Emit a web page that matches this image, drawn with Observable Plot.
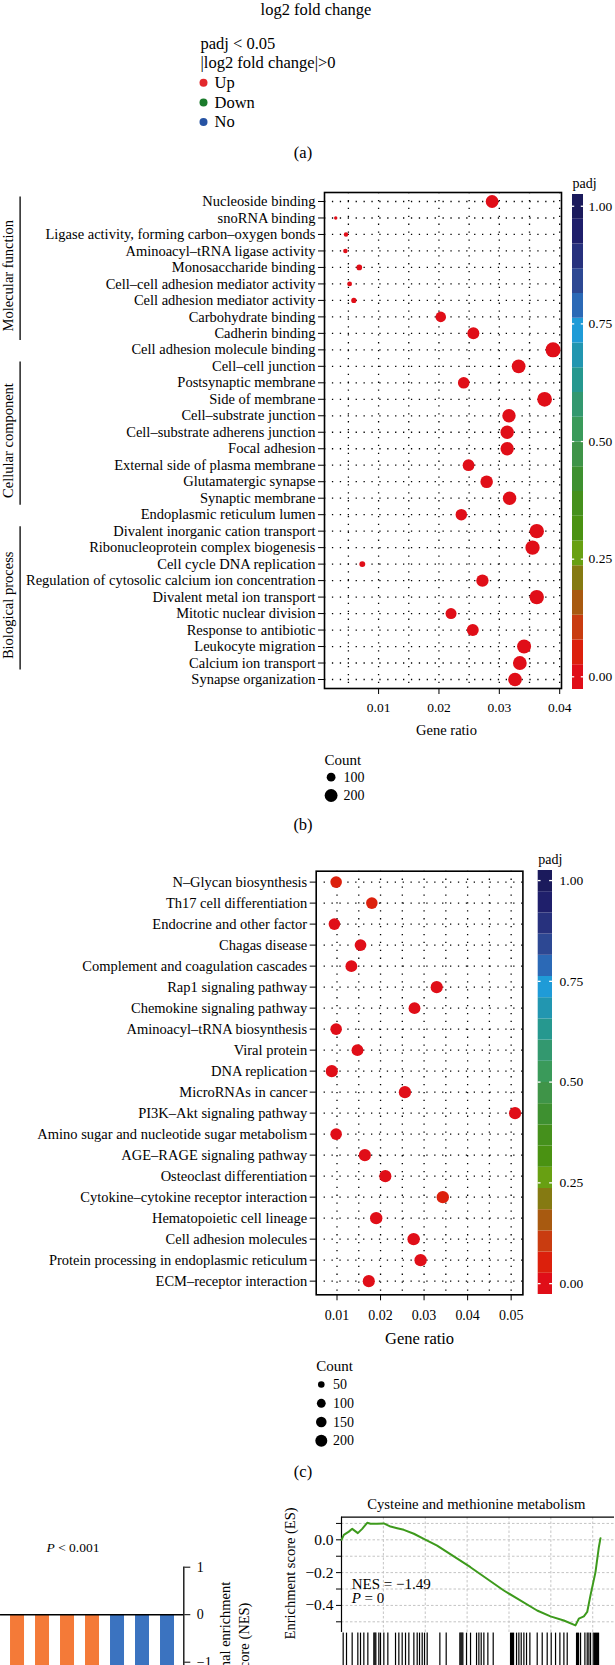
<!DOCTYPE html>
<html><head><meta charset="utf-8">
<script src="https://cdn.jsdelivr.net/npm/d3@7"></script>
<script src="https://cdn.jsdelivr.net/npm/@observablehq/plot@0.6"></script>
<style>
html,body{margin:0;padding:0;background:#fff;}
#page{position:relative;width:615px;height:1665px;overflow:hidden;background:#fff;font-family:"Liberation Serif","Times New Roman",serif;color:#000;}
.lbl{position:absolute;white-space:nowrap;line-height:1;font-family:"Liberation Serif","Times New Roman",serif;}
</style></head>
<body><div id="page"></div>
<script>
// ---------------- DATA ----------------
// (a) volcano legend
const volcanoHeader = ["padj < 0.05", "|log2 fold change|>0"];
const volcanoClasses = ["Up", "Down", "No"];
const volcanoColors = ["#e2282c", "#1b7b2c", "#2653a3"];

// (b) GO enrichment
const goTerms = [
  "Nucleoside binding","snoRNA binding","Ligase activity, forming carbon–oxygen bonds","Aminoacyl–tRNA ligase activity","Monosaccharide binding",
  "Cell–cell adhesion mediator activity","Cell adhesion mediator activity","Carbohydrate binding","Cadherin binding","Cell adhesion molecule binding",
  "Cell–cell junction","Postsynaptic membrane","Side of membrane","Cell–substrate junction","Cell–substrate adherens junction",
  "Focal adhesion","External side of plasma membrane","Glutamatergic synapse","Synaptic membrane","Endoplasmic reticulum lumen",
  "Divalent inorganic cation transport","Ribonucleoprotein complex biogenesis","Cell cycle DNA replication","Regulation of cytosolic calcium ion concentration","Divalent metal ion transport",
  "Mitotic nuclear division","Response to antibiotic","Leukocyte migration","Calcium ion transport","Synapse organization"];
const goRatio = [0.0288,0.0029,0.0046,0.0045,0.0068,0.0052,0.0059,0.0203,0.0257,0.0389,
  0.0332,0.0241,0.0375,0.0316,0.0313,0.0313,0.0249,0.0279,0.0317,0.0237,
  0.0362,0.0355,0.0073,0.0272,0.0362,0.0220,0.0256,0.0341,0.0334,0.0326];
const goCount = [196,20,31,31,46,35,40,138,175,265,226,164,255,215,213,213,169,190,216,161,246,241,50,185,246,150,174,232,227,222];
const goPadj = [0.001,0.004,0.003,0.003,0.002,0.003,0.003,0.001,0.001,0.0001,0.0001,0.001,0.0001,0.0002,0.0002,0.0002,0.001,0.001,0.0002,0.001,
  0.0001,0.0001,0.002,0.001,0.0001,0.001,0.001,0.0001,0.0001,0.0001];
const goGroupNames = ["Molecular function","Cellular component","Biological process"];
const goGroupFirst = [0,10,20];
const goGroupLast = [9,19,29];
const goTicksX = [0.01,0.02,0.03,0.04];
const goGridX = [0.005,0.01,0.015,0.02,0.025,0.03,0.035,0.04];

// (c) KEGG enrichment
const keggTerms = ["N–Glycan biosynthesis","Th17 cell differentiation","Endocrine and other factor","Chagas disease","Complement and coagulation cascades",
  "Rap1 signaling pathway","Chemokine signaling pathway","Aminoacyl–tRNA biosynthesis","Viral protein","DNA replication",
  "MicroRNAs in cancer","PI3K–Akt signaling pathway","Amino sugar and nucleotide sugar metabolism","AGE–RAGE signaling pathway","Osteoclast differentiation",
  "Cytokine–cytokine receptor interaction","Hematopoietic cell lineage","Cell adhesion molecules","Protein processing in endoplasmic reticulum","ECM–receptor interaction"];
const keggRatio = [0.0098,0.0180,0.0094,0.0154,0.0133,0.0329,0.0278,0.0098,0.0147,0.0088,0.0256,0.0509,0.0098,0.0164,0.0211,0.0343,0.0190,0.0276,0.0292,0.0173];
const keggCount = [185,185,185,190,195,205,195,185,195,205,210,205,185,205,205,215,215,215,215,205];
const keggPadj = [0.03,0.03,0.01,0.01,0.01,0.002,0.002,0.01,0.01,0.005,0.002,0.001,0.01,0.005,0.005,0.03,0.005,0.002,0.002,0.005];
const keggTicksX = [0.01,0.02,0.03,0.04,0.05];
const keggGridX = [0.01,0.015,0.02,0.025,0.03,0.035,0.04,0.045,0.05];

// padj colour bar (20 bins, bottom -> top)
const padjPalette = ["#e00e18","#dc200c","#c93c10","#a85a10","#857a12","#68a012","#4a9212","#45901c","#3e9030","#3f9448",
  "#3a9a5a","#33986f","#26988f","#2296b0","#1f9bd7","#2b69b6","#2d4893","#27317d","#1f1f6b","#1b1a5c"];
const padjRange = [-0.027, 1.025];
const padjTicks = [0, 0.25, 0.5, 0.75, 1];
const countLegendB = [100, 200];
const countLegendC = [50, 100, 150, 200];

// (d) NES bars
const nesSets = ["S1","S2","S3","S4","S5","S6","S7"];
const nesValues = [-1.62,-1.58,-1.55,-1.52,-1.60,-1.56,-1.50];
const nesClass = ["A","A","A","A","B","B","B"];
const nesColors = ["#f47a38","#3b73c0"];
const nesTicks = [-1, 0, 1];

// (e) GSEA running enrichment score
const esRank = [0,140,440,640,975,1235,1535,1730,2130,2530,2925,3325,3720,4320,4915,5710,7700,9690,11680,12480,13275,13970,14170,14470,14670,14865,15165,15365,15465];
const esScore = [0,0.03,0.05,0.067,0.041,0.067,0.104,0.098,0.098,0.100,0.081,0.071,0.061,0.037,0.006,-0.035,-0.167,-0.309,-0.431,-0.467,-0.492,-0.522,-0.481,-0.467,-0.44,-0.339,-0.197,-0.045,0.010];
const esHits = [100,299,637,975,1135,1334,1573,1931,1990,2050,2229,2329,2528,2767,3225,3424,3623,3822,4021,4320,4519,4658,4818,4957,5116,5873,6251,
  7067,7127,7187,7246,7465,7704,8063,8202,8341,8500,8739,9058,10093,10153,10212,10272,10451,10590,10730,10889,11048,11247,11685,11984,12282,
  12521,12780,13039,13278,13477,14034,14094,14154,14273,14532,14671,14771,14870,15030,15109,15169,15229,15288,15348];
const esGridX = [2500,5000,7500,10000,12500,15000];
const esTicksY = [0.1,0,-0.1,-0.2,-0.3,-0.4,-0.5];
const esLabeledY = [0,-0.2,-0.4];
const esXDomain = [0, 16300];
const esYDomain = [-0.8, 0.138];

// ---------------- HELPERS ----------------
const W = 615;
const page = document.getElementById("page");
const serif = "'Liberation Serif','Times New Roman',serif";
const baseStyle = {background:"transparent", fontFamily: serif, fontSize:"14px", overflow:"visible", maxWidth:"none", color:"#000"};
function place(el, top){ el.style.position="absolute"; el.style.left="0px"; el.style.top=top+"px"; page.appendChild(el); }
function label(html, x, y, size, anchor){
  const d = document.createElement("div"); d.className="lbl"; d.innerHTML = html;
  d.style.fontSize = size+"px"; d.style.left = x+"px"; d.style.top = y+"px";
  d.style.transform = anchor==="start" ? "translate(0,-50%)" : "translate(-50%,-50%)";
  page.appendChild(d);
}
const padjColor = {type:"quantize", domain: padjRange, range: padjPalette};
const dotted = {stroke:"#000", strokeWidth:1.3, strokeDasharray:"1.3,6.6"};
const f2 = d3.format(".2f");
const intFmt = d => d < 0 ? "\u2212" + Math.abs(d) : String(d);

// ---------------- (a) ----------------
label("log2 fold change", 316, 9.5, 16.5);
const legA = Plot.plot({
  width: W, height: 110, marginTop: 13, marginBottom: 18.5, marginLeft: 203, marginRight: W-214,
  style: baseStyle,
  x: {domain:[0,1], axis:null}, y: {domain:[-2,2], reverse:true, axis:null},
  color: {domain: volcanoClasses, range: volcanoColors},
  marks: [
    Plot.text(volcanoHeader, {x: () => 0, y: (d,i) => i-2, dx: -3, text: d => d, textAnchor:"start", fontSize:16.5}),
    Plot.dot(volcanoClasses, {x: () => 0, y: (d,i) => i, r: 4, fill: d => d}),
    Plot.text(volcanoClasses, {x: () => 1, y: (d,i) => i, text: d => d, textAnchor:"start", fontSize:16.5})
  ]
});
place(legA, 30);
label("(a)", 303, 153, 16.5);

// ---------------- (b) ----------------
const goData = goTerms.map((t,i) => ({i, term:t, ratio:goRatio[i], count:goCount[i], padj:goPadj[i]}));
const goGroups = goGroupNames.map((n,k) => ({name:n, from:goGroupFirst[k]-0.3, to:goGroupLast[k]-0.6, mid:(goGroupFirst[k]+goGroupLast[k])/2}));
const bX = [0.00104, 0.0403];
const rB = {type:"sqrt", domain:[20,265], range:[1.7,7.5]};
const plotB = Plot.plot({
  width: W, height: 578, marginTop: 22, marginBottom: 60, marginLeft: 324, marginRight: 54,
  style: baseStyle,
  x: {domain: bX}, y: {domain: [-0.546, 29.546], reverse: true},
  r: rB, color: padjColor,
  marks: [
    Plot.ruleX(goGridX, dotted),
    Plot.ruleY(goData, {y:"i", ...dotted}),
    Plot.dot(goData, {x:"ratio", y:"i", r:"count", fill:"padj"}),
    Plot.frame({stroke:"#000", strokeWidth:1.6}),
    Plot.axisX({ticks: goTicksX, tickFormat: f2, tickSize:6, tickPadding:8, fontSize:13.5, label:null}),
    Plot.axisY({ticks: goData.map(d => d.i), tickFormat: i => goTerms[i], tickSize:6, tickPadding:3, fontSize:14.5, label:null}),
    Plot.link(goGroups, {x1: () => bX[0], x2: () => bX[0], y1:"from", y2:"to", dx:-304.4, stroke:"#000", strokeWidth:1.3}),
    Plot.text(goGroups, {x: () => bX[0], y:"mid", text:"name", rotate:-90, dx:-316, textAnchor:"middle", lineAnchor:"middle", fontSize:14.5}),
    Plot.text(["Gene ratio"], {frameAnchor:"bottom", dy:42, dx:3.5, textAnchor:"middle", lineAnchor:"middle", fontSize:14.5})
  ]
});
place(plotB, 170);

function colorbar(top, frameTop, frameBottom, x0, x1, pad){
  const bands = padjPalette.map((c,k) => {
    const s = (padjRange[1]-padjRange[0])/padjPalette.length;
    return {lo: padjRange[0]+k*s, hi: padjRange[0]+(k+1)*s, mid: padjRange[0]+(k+0.5)*s};
  });
  return Plot.plot({
    width: W, height: frameBottom-top+10, marginTop: frameTop-top, marginBottom: 10, marginLeft: x0, marginRight: W-x1,
    style: baseStyle,
    x: {domain:[0,1], axis:null}, y: {domain: padjRange},
    color: padjColor,
    marks: [
      Plot.rect(bands, {x1: () => 0, x2: () => 1, y1:"lo", y2:"hi", fill:"mid"}),
      Plot.ruleY(padjTicks, {x1: () => 0, x2: () => 0.2, stroke:"white", strokeWidth:1.3}),
      Plot.ruleY(padjTicks, {x1: () => 0.8, x2: () => 1, stroke:"white", strokeWidth:1.3}),
      Plot.axisY({anchor:"right", ticks: padjTicks, tickFormat: f2, tickSize:0, tickPadding: pad, fontSize:13.5, label:null}),
      Plot.text(["padj"], {frameAnchor:"top-left", dy:-11, textAnchor:"start", lineAnchor:"middle", fontSize:14})
    ]
  });
}
place(colorbar(170, 194, 689, 572, 583, 5), 170);

function countLegend(counts, rScale, y0, y1, dotX, labelX, titleDy, titleDx){
  return Plot.plot({
    width: W, height: y1 + 20, marginTop:0, marginBottom:0, marginLeft:0, marginRight:0,
    style: baseStyle,
    x: {domain:[0,1], range:[dotX, labelX], axis:null},
    y: {domain:[0, counts.length-1], range:[y0, y1], axis:null},
    r: rScale,
    marks: [
      Plot.text(["Count"], {x: () => 0, y: () => -1, dx: titleDx, dy: titleDy, textAnchor:"start", fontSize:15}),
      Plot.dot(counts, {x: () => 0, y: (d,i) => i, r: d => d, fill:"#000"}),
      Plot.text(counts, {x: () => 1, y: (d,i) => i, text: d => String(d), textAnchor:"start", fontSize:14})
    ]
  });
}
place(countLegend(countLegendB, rB, 36.7, 55, 330.6, 343, 1.7, -6.6), 740);
label("(b)", 303, 825, 16.5);

// ---------------- (c) ----------------
const keggData = keggTerms.map((t,i) => ({i, term:t, ratio:keggRatio[i], count:keggCount[i], padj:keggPadj[i]}));
const rC = {type:"sqrt", domain:[50,200], range:[3.3,6]};
const plotC = Plot.plot({
  width: W, height: 504.3, marginTop: 20.7, marginBottom: 60, marginLeft: 315.7, marginRight: 92.6,
  style: baseStyle,
  x: {domain: [0.00522, 0.0527]}, y: {domain: [-0.52, 19.65], reverse: true},
  r: rC, color: padjColor,
  marks: [
    Plot.ruleX(keggGridX, dotted),
    Plot.ruleY(keggData, {y:"i", ...dotted}),
    Plot.dot(keggData, {x:"ratio", y:"i", r:"count", fill:"padj"}),
    Plot.frame({stroke:"#000", strokeWidth:1.6}),
    Plot.axisX({ticks: keggTicksX, tickFormat: f2, tickSize:6, tickPadding:9.5, fontSize:14, label:null}),
    Plot.axisY({ticks: keggData.map(d => d.i), tickFormat: i => keggTerms[i], tickSize:6, tickPadding:3, fontSize:14.5, label:null}),
    Plot.text(["Gene ratio"], {frameAnchor:"bottom", dy:44, textAnchor:"middle", lineAnchor:"middle", fontSize:16.5})
  ]
});
place(plotC, 850);
place(colorbar(850, 870, 1294, 537.7, 552, 7), 850);
place(countLegend(countLegendC, rC, 34, 90.3, 320.8, 332.5, 0, -5.1), 1350);
label("(c)", 303, 1471.7, 16.5);

// ---------------- (d) ----------------
const nesData = nesSets.map((s,i) => ({set:s, nes:nesValues[i], cls:nesClass[i]}));
const plotD = Plot.plot({
  width: W, height: 178.7, marginTop: 26.7, marginBottom: 0, marginLeft: 0, marginRight: W-183.3,
  style: baseStyle,
  x: {type:"band", domain: nesSets, paddingInner:0.43, paddingOuter:0.38, axis:null},
  y: {domain: [-2.2, 1]},
  color: {domain:["A","B"], range: nesColors},
  marks: [
    Plot.barY(nesData, {x:"set", y:"nes", fill:"cls"}),
    Plot.ruleY([0], {stroke:"#000", strokeWidth:1.6}),
    Plot.frame({anchor:"right", stroke:"#000", strokeWidth:1.3}),
    Plot.axisY({anchor:"right", ticks: nesTicks, tickFormat: intFmt, tickSize:6, tickPadding:7, fontSize:14, label:null}),
    Plot.text(["Normal enrichment\nscore (NES)"], {frameAnchor:"right", y: () => -0.495, dx:50, rotate:-90, textAnchor:"middle", lineAnchor:"middle", lineHeight:1.3, fontSize:14.5})
  ]
});
place(plotD, 1540);
label("<i>P</i> &lt; 0.001", 73, 1547.7, 13.5);

// ---------------- (e) ----------------
const esData = esRank.map((r,i) => ({rank:r, es:esScore[i]}));
const f1 = d3.format(".1f");
const plotE = Plot.plot({
  width: W, height: 180.5, marginTop: 26.7, marginBottom: 0, marginLeft: 341, marginRight: 1,
  style: baseStyle,
  x: {domain: esXDomain, axis:null}, y: {domain: esYDomain},
  marks: [
    Plot.ruleX(esGridX, {y1: () => -0.565, y2: () => esYDomain[1], stroke:"#c4c4c4", strokeDasharray:"2.5,2"}),
    Plot.ruleY(esTicksY, {stroke:"#c4c4c4", strokeDasharray:"2.5,2"}),
    Plot.ruleY([esYDomain[1]], {stroke:"#000", strokeWidth:1.2}),
    Plot.ruleX([esXDomain[0]], {y1: () => -0.565, y2: () => esYDomain[1], stroke:"#000", strokeWidth:1.2}),
    Plot.line(esData, {x:"rank", y:"es", stroke:"#3d9a1c", strokeWidth:2}),
    Plot.ruleX(esHits, {y1: () => -0.569, y2: () => esYDomain[0], stroke:"#000", strokeWidth:1.2}),
    Plot.axisY({ticks: esTicksY, tickFormat: d => esLabeledY.includes(d) ? f1(d) : "", tickSize:5, tickPadding:3, fontSize:15.5, label:null}),
    Plot.text(["Enrichment score (ES)"], {frameAnchor:"left", y: () => -0.205, dx:-51, rotate:-90, textAnchor:"middle", lineAnchor:"middle", fontSize:14.5}),
    Plot.text(["Cysteine and methionine metabolism"], {frameAnchor:"top", dy:-13.4, dx:-1.7, textAnchor:"middle", lineAnchor:"middle", fontSize:14.7})
  ]
});
place(plotE, 1490);
label("NES = −1.49", 351.7, 1584.3, 15, "start");
label("<i>P</i> = 0", 351.7, 1598.3, 15, "start");
</script>
</body></html>
